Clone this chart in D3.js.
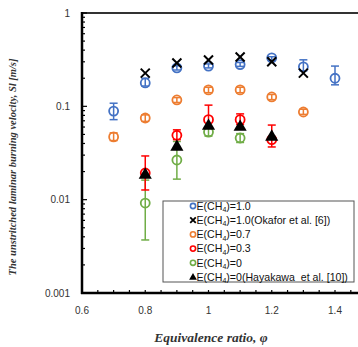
<!DOCTYPE html>
<html lang="en">
<head>
    <meta charset="UTF-8">
    <title>Laminar burning velocity</title>
    <script src="https://cdn.jsdelivr.net/npm/d3@7/dist/d3.min.js"></script>
    <style>
        body { margin: 0; background: #fff; }
        svg { display: block; }
        .tick-lbl { font-family: "Liberation Sans", Arial, sans-serif; font-size: 10px; fill: #333; }
        .title { font-family: "Liberation Serif", "Times New Roman", serif; font-style: italic; font-weight: bold; fill: #333; }
        .leg { font-family: "Liberation Sans", Arial, sans-serif; font-size: 10.6px; fill: #111; }
    </style>
</head>
<body>
    <svg width=358 height=347></svg>
    <script>
        // equivalence ratio per series
        var phiBlue = [0.7, 0.8, 0.9, 1.0, 1.1, 1.2, 1.3, 1.4],
            slBlue = [0.089, 0.178, 0.258, 0.27, 0.28, 0.33, 0.265, 0.2],
            loBlue = [0.072, 0.165, 0.245, 0.258, 0.268, 0.31, 0.24, 0.17],
            hiBlue = [0.108, 0.2, 0.272, 0.285, 0.295, 0.34, 0.315, 0.27];

        var phiOkafor = [0.8, 0.9, 1.0, 1.1, 1.2, 1.3],
            slOkafor = [0.227, 0.291, 0.314, 0.338, 0.30, 0.227];

        var phiOrange = [0.7, 0.8, 0.9, 1.0, 1.1, 1.2, 1.3],
            slOrange = [0.047, 0.075, 0.117, 0.15, 0.15, 0.126, 0.087],
            loOrange = [0.043, 0.069, 0.11, 0.14, 0.14, 0.118, 0.082],
            hiOrange = [0.052, 0.081, 0.124, 0.16, 0.16, 0.134, 0.093];

        var phiRed = [0.8, 0.9, 1.0, 1.1, 1.2],
            slRed = [0.0193, 0.049, 0.072, 0.072, 0.044],
            loRed = [0.0127, 0.044, 0.06, 0.064, 0.0367],
            hiRed = [0.0294, 0.056, 0.103, 0.083, 0.063];

        var phiGreen = [0.8, 0.9, 1.0, 1.1],
            slGreen = [0.0092, 0.0266, 0.053, 0.0458],
            loGreen = [0.0037, 0.0166, 0.048, 0.041],
            hiGreen = [0.0162, 0.042, 0.058, 0.051];

        var phiHaya = [0.8, 0.9, 1.0, 1.1, 1.2],
            slHaya = [0.0184, 0.0367, 0.0615, 0.06, 0.047];

        var xTicks = [0.6, 0.8, 1.0, 1.2, 1.4],
            yTicks = [0.001, 0.01, 0.1, 1],
            yTickLabels = ['0.001', '0.01', '0.1', '1'];

        var legendLabels = [
            ['E(CH', '4', ')=1.0'],
            ['E(CH', '4', ')=1.0(Okafor et al. [6])'],
            ['E(CH', '4', ')=0.7'],
            ['E(CH', '4', ')=0.3'],
            ['E(CH', '4', ')=0'],
            ['E(CH', '4', ')=0(Hayakawa\u00a0 et al. [10])']
        ];

        var blue = '#4472c4', orange = '#ed7d31', red = '#ff0000', green = '#70ad47';

        var svg = d3.select('svg'),
            xScale = d3.scaleLinear().domain([0.6, 1.4]).range([82, 335]),
            yScale = d3.scaleLog().domain([0.001, 1]).range([293, 13]);

        function zip(xs, ys, lo, hi) {
            return xs.map(function(x, i) {
                return { x: x, y: ys[i], lo: lo ? lo[i] : null, hi: hi ? hi[i] : null };
            });
        }

        // frame: top line
        svg.append('line')
            .attr('x1', xScale(0.6)).attr('x2', 358)
            .attr('y1', yScale(1)).attr('y2', yScale(1))
            .attr('stroke', '#333').attr('stroke-width', 2);

        // y minor/major ticks (inward)
        var yMinor = [];
        [0.001, 0.01, 0.1].forEach(function(d) {
            for (var k = 1; k <= 9; k++) yMinor.push(d * k);
        });
        yMinor.push(1);
        svg.append('g').selectAll('line')
            .data(yMinor)
            .enter().append('line')
            .attr('x1', xScale(0.6))
            .attr('x2', function(d) { return xScale(0.6) + (yTicks.indexOf(d) >= 0 ? 5 : 3); })
            .attr('y1', function(d) { return yScale(d); })
            .attr('y2', function(d) { return yScale(d); })
            .attr('stroke', '#000').attr('stroke-width', 1.2);

        // x ticks every 0.05 (inward)
        svg.append('g').selectAll('line')
            .data(d3.range(0.6, 1.5001, 0.05))
            .enter().append('line')
            .attr('x1', function(d) { return xScale(d); })
            .attr('x2', function(d) { return xScale(d); })
            .attr('y1', yScale(0.001))
            .attr('y2', yScale(0.001) - 3)
            .attr('stroke', '#000').attr('stroke-width', 1.2);

        // axis lines
        svg.append('line')
            .attr('x1', xScale(0.6)).attr('x2', xScale(0.6))
            .attr('y1', yScale(1) - 1).attr('y2', yScale(0.001) + 1)
            .attr('stroke', '#000').attr('stroke-width', 2.5);
        svg.append('line')
            .attr('x1', xScale(0.6) - 1).attr('x2', 358)
            .attr('y1', yScale(0.001)).attr('y2', yScale(0.001))
            .attr('stroke', '#000').attr('stroke-width', 2.5);

        // tick labels
        svg.append('g').selectAll('text')
            .data(yTicks)
            .enter().append('text')
            .classed('tick-lbl', true)
            .attr('x', 70)
            .attr('y', function(d) { return yScale(d); })
            .attr('dy', '0.35em')
            .attr('text-anchor', 'end')
            .text(function(d, i) { return yTickLabels[i]; });

        svg.append('g').selectAll('text')
            .data(xTicks)
            .enter().append('text')
            .classed('tick-lbl', true)
            .attr('x', function(d) { return xScale(d); })
            .attr('y', 314)
            .attr('text-anchor', 'middle')
            .text(function(d) { return d === 1 ? '1' : d.toFixed(1); });

        // axis titles
        svg.append('text')
            .classed('title', true)
            .attr('x', 211).attr('y', 342)
            .attr('text-anchor', 'middle')
            .attr('font-size', 13.5)
            .text('Equivalence ratio, \u03c6');

        svg.append('text')
            .classed('title', true)
            .attr('transform', 'translate(16,167) rotate(-90)')
            .attr('text-anchor', 'middle')
            .attr('font-size', 10.5)
            .text('The unstritched laminar burning velocity, Sl [m/s]');

        var plotG = svg.append('g');

        function errorBars(data, color) {
            var g = plotG.append('g');
            var pts = data.filter(function(d) { return d.lo != null; });
            g.selectAll('line.v').data(pts).enter().append('line')
                .attr('x1', function(d) { return xScale(d.x); })
                .attr('x2', function(d) { return xScale(d.x); })
                .attr('y1', function(d) { return yScale(d.lo); })
                .attr('y2', function(d) { return yScale(d.hi); })
                .attr('stroke', color).attr('stroke-width', 1.5);
            ['lo', 'hi'].forEach(function(k) {
                g.selectAll('line.' + k).data(pts).enter().append('line')
                    .attr('x1', function(d) { return xScale(d.x) - 4; })
                    .attr('x2', function(d) { return xScale(d.x) + 4; })
                    .attr('y1', function(d) { return yScale(d[k]); })
                    .attr('y2', function(d) { return yScale(d[k]); })
                    .attr('stroke', color).attr('stroke-width', 1.5);
            });
        }

        function circles(data, color) {
            errorBars(data, color);
            plotG.append('g').selectAll('circle')
                .data(data)
                .enter().append('circle')
                .attr('cx', function(d) { return xScale(d.x); })
                .attr('cy', function(d) { return yScale(d.y); })
                .attr('r', 4.5)
                .attr('fill', 'none')
                .attr('stroke', color)
                .attr('stroke-width', 1.8);
        }

        circles(zip(phiBlue, slBlue, loBlue, hiBlue), blue);
        circles(zip(phiOrange, slOrange, loOrange, hiOrange), orange);
        circles(zip(phiGreen, slGreen, loGreen, hiGreen), green);
        circles(zip(phiRed, slRed, loRed, hiRed), red);

        // Okafor crosses
        var crossSym = d3.symbol().type(d3.symbolX).size(55);
        plotG.append('g').selectAll('path')
            .data(zip(phiOkafor, slOkafor))
            .enter().append('path')
            .attr('d', crossSym)
            .attr('transform', function(d) { return 'translate(' + [xScale(d.x), yScale(d.y)] + ')'; })
            .attr('fill', 'none')
            .attr('stroke', '#000')
            .attr('stroke-width', 2);

        // Hayakawa triangles
        var triSym = d3.symbol().type(d3.symbolTriangle).size(75);
        plotG.append('g').selectAll('path')
            .data(zip(phiHaya, slHaya))
            .enter().append('path')
            .attr('d', triSym)
            .attr('transform', function(d) { return 'translate(' + [xScale(d.x), yScale(d.y)] + ')'; })
            .attr('fill', '#000');

        // legend
        var legG = svg.append('g').attr('transform', 'translate(163,201)');
        legG.append('rect')
            .attr('width', 191).attr('height', 81)
            .attr('fill', '#fff')
            .attr('stroke', '#555')
            .attr('stroke-width', 1);

        var legMarks = ['c:' + blue, 'x', 'c:' + orange, 'c:' + red, 'c:' + green, 't'];
        var rows = legG.selectAll('g.row')
            .data(legendLabels)
            .enter().append('g')
            .attr('transform', function(d, i) { return 'translate(0,' + (5 + i * 14.2) + ')'; });

        rows.each(function(d, i) {
            var row = d3.select(this), m = legMarks[i];
            if (m.indexOf('c:') === 0) {
                row.append('circle').attr('cx', 30).attr('cy', 0).attr('r', 2.6)
                    .attr('fill', 'none').attr('stroke', m.slice(2)).attr('stroke-width', 1.6);
            } else if (m === 'x') {
                row.append('path').attr('d', d3.symbol().type(d3.symbolX).size(22))
                    .attr('transform', 'translate(30,0)')
                    .attr('stroke', '#000').attr('stroke-width', 1.8);
            } else {
                row.append('path').attr('d', d3.symbol().type(d3.symbolTriangle).size(26))
                    .attr('transform', 'translate(30,0.5)')
                    .attr('fill', '#000');
            }
            var t = row.append('text').classed('leg', true)
                .attr('x', 33.5).attr('y', 0).attr('dy', '0.35em');
            t.append('tspan').text(d[0]);
            t.append('tspan').attr('font-size', 7).attr('dy', 2.5).text(d[1]);
            t.append('tspan').attr('dy', -2.5).text(d[2]);
        });
    </script>
</body>
</html>
